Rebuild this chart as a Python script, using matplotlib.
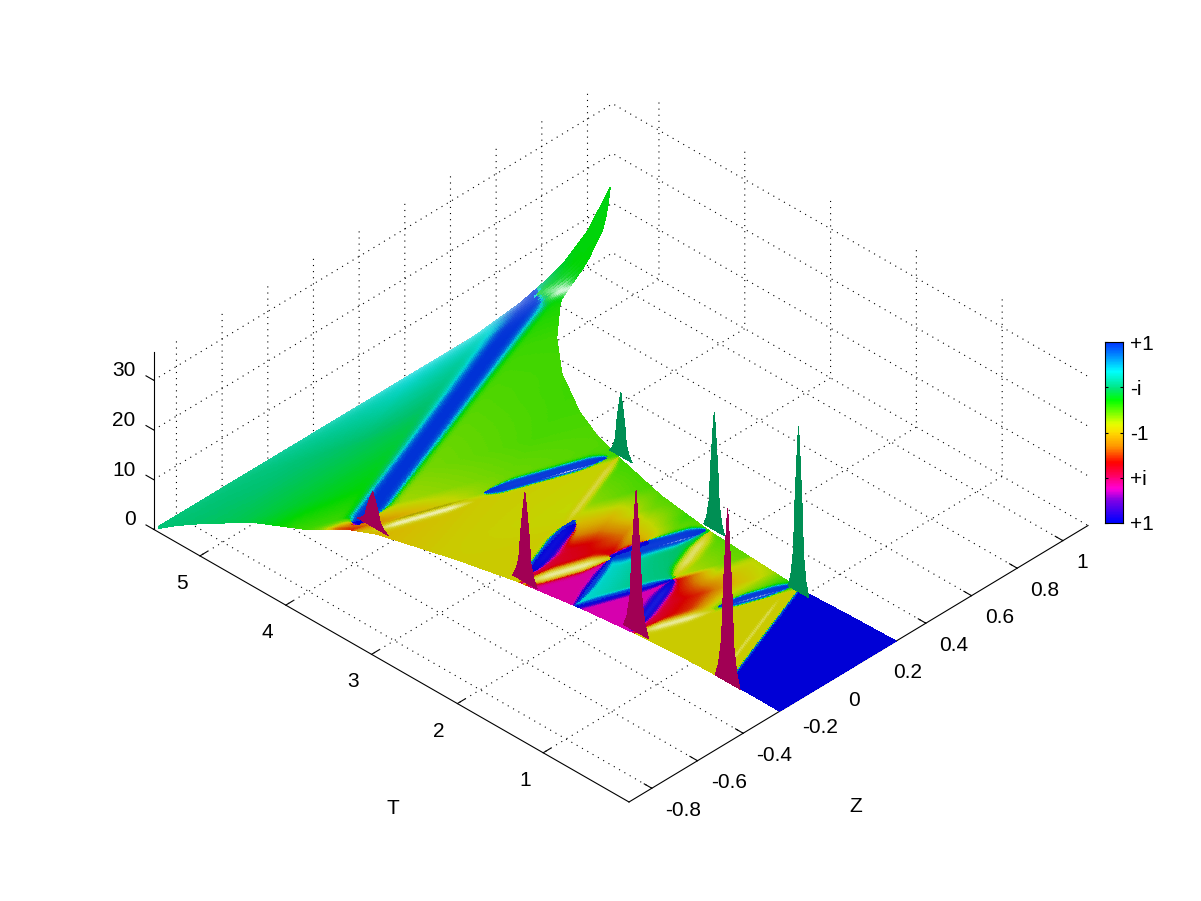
import matplotlib
matplotlib.use("Agg")
import matplotlib.pyplot as plt
import numpy as np
from matplotlib.colors import LinearSegmentedColormap
from mpl_toolkits.mplot3d import proj3d

# outline of the surface: for each T the Z range and the lift of the far edge
edge_T = [0, .53, 1.04, 1.65, 2.18, 2.85, 3.42, 3.81, 4.16, 4.39, 4.65, 5.03, 5.34, 5.365, 5.444, 5.47, 5.5, 5.52, 5.54]
edge_low = [-.24, -.24, -.245, -.26, -.28, -.317, -.365, -.405, -.442, -.488, -.58, -.665, -.79, -.8, -.84, -.855, -.875, -.89, -.9]
edge_up = [.27, .265, .258, .27, .28, .31, .357, .395, .447, .497, .553, .674, .805, .82, .906, .97, 1.05, 1.08, 1.1]
edge_lift = [0, 0, 0, 0, 0, 0, 0, 0, 0, 0, 0, 0, 0, .3, 1, 2.5, 6.5, 9.5, 13.5]
lift_frac = [0, .7, .8, .85, .9, .95, 1]
lift_shape = [0, 0, .08, .17, .3, .55, 1]

# phase of the field (0..1 around the colour wheel) read at knots of u=T-Z, v=T+Z
knot_u = [-.3, .81, .85, 1.38, 1.6, 1.88, 1.94, 2.2, 2.52, 2.58, 2.8, 3.09, 3.15, 3.9, 4.6, 4.95, 5.3, 5.8, 6.5]
knot_v = [-.3, 1.33, 1.39, 1.65, 1.93, 1.98, 2.46, 2.52, 2.75, 3.0, 3.3, 3.78, 3.86, 4.05, 4.4, 5.0, 5.7, 6.7]
phase_table = [
    [0, 0] + [.53] * 17,
    [0, 0, .53, .53, .53, .53] + [.19] * 13,
    [.66, .66, .68, .6, .36, .27] + [.19] * 13,
    [.66, .66, .66, .5, .36, .27] + [.19] * 13,
    [.66, .66, .66, .56, .58, .33] + [.19] * 13,
    [.66, .66, .66, .62, .6, .55, .76, .78, .84] + [.2] * 10,
    [.66, .66, .66, .66, .66, .64, .72, .76, .84, .2, .2, .2, .2] + [.53] * 6,
    [.66] * 6 + [.6, .58, .36, .3, .3, .28] + [.53] * 7,
    [.66] * 7 + [.64, .5, .42, .33, .28] + [.53] * 7,
    [.66] * 8 + [.6, .58, .48, .47] + [.53] * 7,
    [.66] * 9 + [.64, .62, .58, .55, .53] + [.5] * 5,
    [.66] * 11 + [.64, .54, .53, .49, .6, .62, .7, .7],
    [.66] * 12 + [.64, .6, .46, .3, .6, .7, .72],
    [.63] * 13 + [.61, .57, .64, .64, .71, .74],
    [.63] * 14 + [.6, .68, .7, .73, .75],
    [.64] * 14 + [.62, .72, .74, .76, .77],
    [.64] * 14 + [.64, .78, .84, .84, .84],
    [.67] * 14 + [.7, .95, .95, .95, .95],
]

# narrow stripes that run along u=const (nan phase: only a highlight)
uband_at = [4.79, 1.91, 1.91, 2.54, 3.09, 3.12, .93]
uband_from = [3.9, 1.40, 1.98, 2.0, 2.58, 3.1, .4]
uband_to = [6.3, 1.95, 2.46, 2.47, 3.14, 3.83, 1.3]
uband_width = [.13, .07, .08, .04, .09, .05, .03]
uband_phase = [0, 0, .53, 0, 0, .53, np.nan]
uband_glow = [0, .1, .4, .05, .05, .25, .3]

# and along v=const
vband_at = [1.41, 1.385, 1.36, 1.95, 2.49, 2.455, 2.48, 3.86, 3.82, 3.77, 3.83, 6.25]
vband_from = [.9, .95, 1.38, 1.92, 1.95, 1.96, 2.55, 3.2, 3.25, 4.0, 4.05, 4.4]
vband_to = [1.38, 1.3, 1.88, 2.58, 2.58, 2.25, 3.1, 3.98, 3.6, 4.65, 4.6, 4.76]
vband_width = [.07, .015, .08, .05, .1, .015, .09, .08, .015, .07, .03, .1]
vband_phase = [0, np.nan, .53, 0, 0, np.nan, .53, 0, np.nan, .53, np.nan, .7]
vband_glow = [.05, .5, .6, .05, .05, .5, .6, .05, .7, .7, -.2, .8]

# pale rim along the last time slice
rim_v = [4.6, 5.2, 5.8, 6.2, 6.4]
rim_glow = [0, .1, .4, .5, 0]

# spikes: Z, T, height
red_Z = [-.2425, -.25, -.3025, -.422]
red_T = [.6, 1.647, 2.803, 4.259]
red_H = [35, 28.4, 18, 7]
red_width = [1.2, 1.2, 1.2, 1.5]
green_Z = [.2455, .2955, .37]
green_T = [1.073, 2.188, 3.475]
green_H = [33.3, 23.7, 12.8]
green_width = [1, 1, 1.1]
spike_dT = [-.12, -.088, -.059, -.041, -.015, 0, .015, .041, .059, .088, .12]
spike_shape = [0, .08, .23, .54, .85, 1, .85, .54, .23, .08, 0]

z_ticks = [-.8, -.6, -.4, -.2, 0, .2, .4, .6, .8, 1]
z_labels = ["-0.8", "-0.6", "-0.4", "-0.2", "0", "0.2", "0.4", "0.6", "0.8", "1"]
t_ticks = [1, 2, 3, 4, 5]
h_ticks = [0, 10, 20, 30]
bar_ticks = [0, .25, .5, .75, 1]
bar_labels = ["+1", "+i", "-1", "-i", "+1"]

wheel_pos = [0, .12, .18, .257, .33, .42, .5, .55, .68, .75, .845, .94, 1]
wheel_rgb = [(0, 0, 255), (130, 0, 230), (255, 0, 220), (255, 0, 100), (255, 0, 0), (255, 150, 0), (255, 220, 0),
             (230, 255, 0), (0, 255, 0), (0, 230, 130), (0, 255, 255), (0, 130, 255), (0, 60, 255)]
wheel = LinearSegmentedColormap.from_list("wheel", [(p, np.array(c) / 255) for p, c in zip(wheel_pos, wheel_rgb)], N=256)

plt.rcParams["font.family"] = ["Liberation Sans", "DejaVu Sans"]
plt.rcParams["font.size"] = 15
plt.rcParams["grid.color"] = "k"
plt.rcParams["grid.linewidth"] = .8
plt.rcParams["grid.linestyle"] = (0, (1, 4.5))

W, H = 1201, 901
fig = plt.figure(figsize=(W / 100, H / 100), dpi=100)
ax = fig.add_axes([0, 0, 1, 1], projection="3d", computed_zorder=False, proj_type="ortho")
ax.patch.set_alpha(0)
ax.view_init(elev=36.0, azim=224.3)
ax.set_xlim(-.9, 1.11)
ax.set_ylim(0, 5.54)
ax.set_zlim(0, 35.6)
ax.set_xticks(z_ticks, z_labels, ha="left")
ax.set_yticks(t_ticks)
ax.set_zticks(h_ticks, [str(h) for h in h_ticks], ha="right", va="bottom")
ax.set_box_aspect((655, 662, 218), zoom=1)
for axis in (ax.xaxis, ax.yaxis, ax.zaxis):
    axis.pane.set_facecolor((1, 1, 1, 0))
    axis.pane.set_edgecolor((1, 1, 1, 0))
    axis._axinfo["tick"]["inward_factor"] = 0
    axis._axinfo["tick"]["outward_factor"] = .2
    axis.line.set_linewidth(.8)
ax.zaxis._get_tickdir = lambda pos: 1
ax.tick_params(axis="x", pad=1.5)
ax.tick_params(axis="y", pad=5.5)
ax.tick_params(axis="z", pad=-1.5)


def to_px(z, t, h):
    x, y, _ = proj3d.proj_transform(z, t, h, ax.get_proj())
    return ax.transData.transform((x, y))


# put the floor corners where they are in the picture
fig.canvas.draw()
a, b = to_px(-.9, 0, 0), to_px(1.11, 0, 0)
ax.set_box_aspect((655, 662, 218), zoom=459 / (b[0] - a[0]))
fig.canvas.draw()
a = to_px(-.9, 0, 0)
ax.set_position([(629 - a[0]) / W, (H - 802 - a[1]) / H, 1, 1])

fig.text(393 / W, 1 - 808 / H, "T", ha="center", va="center")
fig.text(856 / W, 1 - 806 / H, "Z", ha="center", va="center")

# surface mesh
rows, cols = 420, 200
Tg, fg = np.meshgrid(np.linspace(0, 5.54, rows), np.linspace(0, 1, cols), indexing="ij")
zl = np.interp(Tg, edge_T, edge_low)
zu = np.interp(Tg, edge_T, edge_up)
Zg = zl + fg * (zu - zl)
Hg = np.interp(Tg, edge_T, edge_lift) * np.interp(fg, lift_frac, lift_shape)
ug, vg = Tg - Zg, Tg + Zg

# the field is complex, so phases are blended the short way round the wheel
ku, kv = np.array(knot_u), np.array(knot_v)
table = np.exp(2j * np.pi * np.array(phase_table))
iu = np.clip(np.searchsorted(ku, ug) - 1, 0, len(ku) - 2)
iv = np.clip(np.searchsorted(kv, vg) - 1, 0, len(kv) - 2)
fu = np.clip((ug - ku[iu]) / (ku[iu + 1] - ku[iu]), 0, 1)
fv = np.clip((vg - kv[iv]) / (kv[iv + 1] - kv[iv]), 0, 1)
field = (table[iv, iu] * (1 - fu) * (1 - fv) + table[iv, iu + 1] * fu * (1 - fv)
         + table[iv + 1, iu] * (1 - fu) * fv + table[iv + 1, iu + 1] * fu * fv)
glow = np.interp(vg, rim_v, rim_glow) * np.exp((Tg - 5.54) / .05)


def add_band(across, along, at, start, end, width, phase, light):
    global field, glow
    ends = np.clip(np.minimum(along - start, end - along) / .15, 0, 1)
    d = (across - at) / (width * np.maximum(ends, .01) ** .5)
    if not np.isnan(phase):
        mix = np.exp(-np.abs(d) ** 3) * (ends > 0)
        field = field * (1 - mix) + np.exp(2j * np.pi * phase) * np.abs(field) * mix
    glow = glow + light * np.exp(-(d * 2) ** 2) * ends


for i in range(len(uband_at)):
    add_band(ug, vg, uband_at[i], uband_from[i], uband_to[i], uband_width[i], uband_phase[i], uband_glow[i])
for i in range(len(vband_at)):
    add_band(vg, ug, vband_at[i], vband_from[i], vband_to[i], vband_width[i], vband_phase[i], vband_glow[i])

phase = np.mod(np.angle(field) / (2 * np.pi), 1)
rgb = wheel(phase)[..., :3] * .84
light = np.clip(glow, 0, 1)[..., None]
dark = np.clip(-glow, 0, 1)[..., None]
rgb = (rgb * (1 - light) + light) * (1 - dark)

ax.plot_surface(Zg, Tg, Hg, facecolors=rgb, rstride=1, cstride=1, shade=False, antialiased=False,
                linewidth=0, edgecolor="none", zorder=3)

offs = np.array(spike_dT)
shape = np.array(spike_shape)
for i in range(len(green_Z)):
    tt = np.array([green_T[i] + offs * green_width[i]] * 2)
    hh = np.array([shape * 0, shape * green_H[i]])
    ax.plot_surface(np.full(tt.shape, green_Z[i]), tt, hh, color=(0, .56, .33), shade=False,
                    antialiased=False, linewidth=0, zorder=4)
for i in range(len(red_Z)):
    tt = np.array([red_T[i] + offs * red_width[i]] * 2)
    hh = np.array([shape * 0, shape * red_H[i]])
    ax.plot_surface(np.full(tt.shape, red_Z[i]), tt, hh, color=(.63, 0, .33), shade=False,
                    antialiased=False, linewidth=0, zorder=5)

# colour bar
cax = fig.add_axes([1105 / W, (H - 523) / H, 18 / W, 181 / H])
cax.imshow(np.linspace(0, 1, 64)[:, None], cmap=wheel, origin="lower", aspect="auto", extent=(0, 1, 0, 1))
cax.set_xticks([])
cax.yaxis.tick_right()
cax.set_yticks(bar_ticks, bar_labels)
cax.tick_params(axis="y", direction="in", length=2, left=True, right=True, pad=5, width=.8)

fig.savefig("out.png", dpi=100)
